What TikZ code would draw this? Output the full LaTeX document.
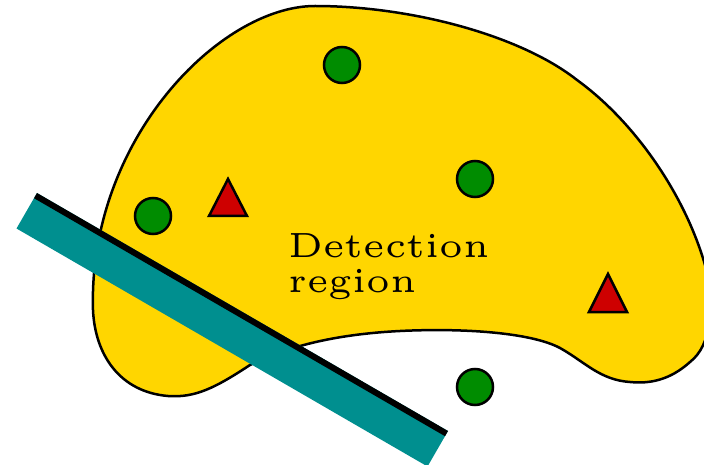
\documentclass[tikz,border=0pt]{standalone}
\usetikzlibrary{calc}
\definecolor{blobyellow}{RGB}{255,214,0}
\definecolor{barteal}{RGB}{0,143,143}
\definecolor{dotgreen}{RGB}{0,140,0}
\definecolor{trired}{RGB}{206,0,0}
\tikzset{
  blob/.style={fill=blobyellow, draw=black, line width=2.5pt},
  dot/.style={circle, fill=dotgreen, draw=black, line width=2.5pt, minimum size=36pt, inner sep=0pt},
  tri/.style={fill=trired, draw=black, line width=2.5pt, line join=miter},
}
\begin{document}
\begin{tikzpicture}[x=1pt,y=-1pt]
\useasboundingbox (0,0) rectangle (704,465);
\clip (0,0) rectangle (704,465);
% detection region
\draw[blob] (315,6)
  .. controls (410,6) and (520,35) .. (577,80)
  .. controls (635,122) and (685,195) .. (705,265)
  .. controls (715,305) and (712,345) .. (690,362)
  .. controls (670,380) and (650,384) .. (630,382)
  .. controls (600,380) and (585,362) .. (560,348)
  .. controls (530,332) and (460,328) .. (400,331)
  .. controls (340,334) and (290,345) .. (250,365)
  .. controls (215,388) and (195,398) .. (168,396)
  .. controls (120,392) and (95,355) .. (93,310)
  .. controls (88,140) and (220,6) .. (315,6) -- cycle;
% sensors
\node[dot] (c1) at (342,65) {};
\node[dot] (c2) at (475,179) {};
\node[dot] (c3) at (153,216) {};
\node[dot] (c4) at (475,387) {};
% targets
\draw[tri] (228,179) -- (209,216) -- (247,216) -- cycle;
\draw[tri] (608,274) -- (589,312) -- (627,312) -- cycle;
% label
\node[anchor=north west, inner sep=0pt] (lbl) at (288,233)
  {\scalebox{7}{\fontsize{5}{5}\selectfont\begin{tabular}[t]{@{}l@{}}Detection\\region\end{tabular}}};
% barrier
\coordinate (ba) at (37,193);
\coordinate (bb) at (448,431);
\fill[barteal] (ba) -- (bb) -- ($(bb)+(-20.5,35.5)$) -- ($(ba)+(-20.5,35.5)$) -- cycle;
\draw[line width=6pt] ($(ba)+(-1.5,2.6)$) -- ($(bb)+(-1.5,2.6)$);
\end{tikzpicture}
\end{document}
